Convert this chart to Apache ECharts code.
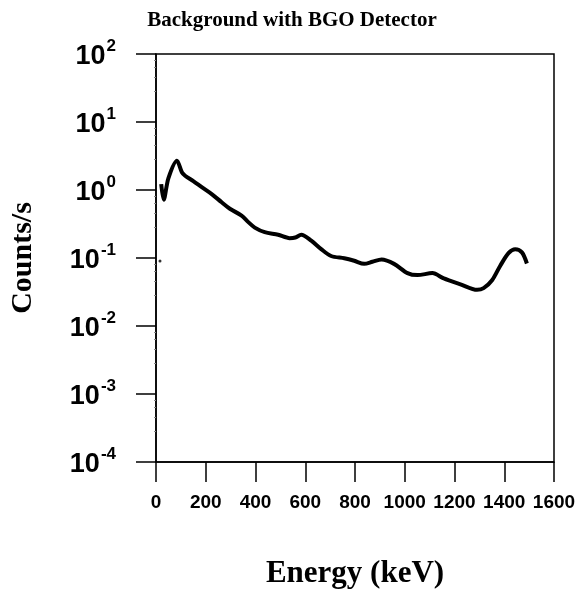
<!DOCTYPE html>
<html>
<head>
<meta charset="utf-8">
<script src="https://cdn.jsdelivr.net/npm/echarts@6/dist/echarts.min.js"></script>
<style>
  html, body { margin: 0; padding: 0; background: #fff; }
  #chart { width: 579px; height: 594px; }
</style>
</head>
<body>
<div id="chart"></div>
<script>
// Energy (keV) and count rate (counts/s)
const energy = [21, 31, 50, 84, 104, 117, 150, 184, 224, 264, 297, 344, 370, 397, 437, 491, 537, 560, 584, 624, 664, 704, 757, 797, 837, 870, 907, 957, 1011, 1051, 1111, 1157, 1224, 1291, 1317, 1351, 1384, 1417, 1444, 1471, 1491];
const counts = [1.22, 0.72, 1.5, 2.7, 1.82, 1.62, 1.35, 1.1, 0.87, 0.66, 0.53, 0.42, 0.34, 0.28, 0.24, 0.22, 0.196, 0.2, 0.22, 0.18, 0.135, 0.107, 0.099, 0.091, 0.082, 0.088, 0.095, 0.082, 0.06, 0.056, 0.06, 0.05, 0.041, 0.034, 0.036, 0.047, 0.077, 0.118, 0.135, 0.121, 0.083];
// isolated dot near the left axis
const strayPoint = [[16, 0.09]];
const xTicks = [0, 200, 400, 600, 800, 1000, 1200, 1400, 1600];

const chart = echarts.init(document.getElementById("chart"));

const labelFont = "'Liberation Sans', Arial, sans-serif";
const serifFont = "'Liberation Serif', 'Times New Roman', serif";

const option = {
  animation: false,
  backgroundColor: "#fff",
  title: {
    text: "Background with BGO Detector",
    left: 287,
    top: 5,
    textAlign: "center",
    textStyle: {
      fontFamily: serifFont,
      fontWeight: "bold",
      fontSize: 21,
      color: "#000",
    },
  },
  grid: {
    left: 154,
    right: 25,
    top: 54,
    bottom: 131,
    show: true,
    borderColor: "#000",
    borderWidth: 1.5,
  },
  xAxis: {
    type: "value",
    min: 0,
    max: 1600,
    interval: 200,
    name: "Energy (keV)",
    nameLocation: "middle",
    nameGap: 96,
    nameTextStyle: {
      fontFamily: serifFont,
      fontWeight: "bold",
      fontSize: 31,
      color: "#000",
    },
    axisLine: { show: true, lineStyle: { color: "#000", width: 1.5 } },
    axisTick: { show: true, inside: false, length: 20, lineStyle: { color: "#000", width: 1.5 } },
    axisLabel: {
      margin: 31,
      fontFamily: labelFont,
      fontWeight: "bold",
      fontSize: 19,
      color: "#000",
      formatter: (v) => (xTicks.includes(v) ? String(v) : ""),
    },
    splitLine: { show: false },
  },
  yAxis: {
    type: "log",
    min: 1e-4,
    max: 100,
    logBase: 10,
    name: "Counts/s",
    nameLocation: "middle",
    nameGap: 118,
    nameTextStyle: {
      fontFamily: serifFont,
      fontWeight: "bold",
      fontSize: 30,
      color: "#000",
    },
    axisLine: { show: true, lineStyle: { color: "#000", width: 1.5 } },
    axisTick: { show: true, inside: false, length: 20, lineStyle: { color: "#000", width: 1.5 } },
    minorTick: { show: true, splitNumber: 5, length: 2, lineStyle: { color: "#888", width: 1 } },
    axisLabel: {
      margin: 40,
      formatter: (v) => {
        const e = Math.round(Math.log10(v));
        return "{b|10}{s|" + e + "}";
      },
      rich: {
        b: { fontFamily: labelFont, fontWeight: "bold", fontSize: 27, color: "#000", verticalAlign: "bottom", lineHeight: 32 },
        s: { fontFamily: labelFont, fontWeight: "bold", fontSize: 17, color: "#000", verticalAlign: "top", lineHeight: 32, padding: [0, 0, 11, 1] },
      },
    },
    splitLine: { show: false },
  },
  series: [
    {
      type: "line",
      data: energy.map((e, i) => [e, counts[i]]),
      smooth: 0.3,
      showSymbol: false,
      lineStyle: { color: "#000", width: 4 },
    },
    {
      type: "scatter",
      data: strayPoint,
      symbolSize: 3,
      itemStyle: { color: "#000" },
    },
  ],
};

chart.setOption(option);
</script>
</body>
</html>
